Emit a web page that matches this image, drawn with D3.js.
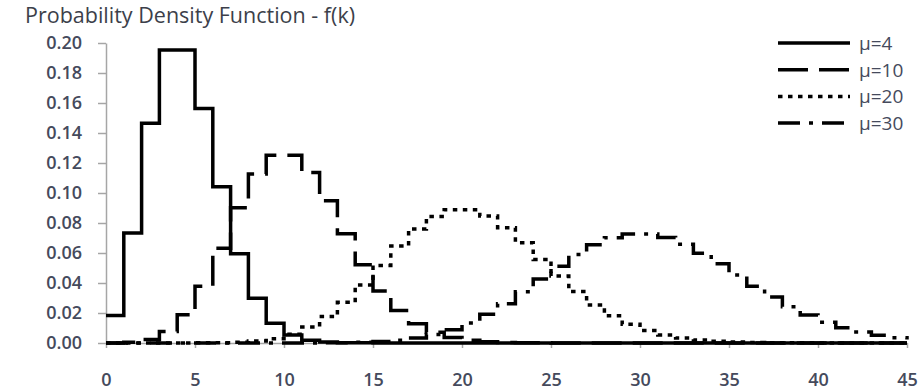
<!DOCTYPE html>
<html><head><meta charset="utf-8">
<script src="https://cdn.jsdelivr.net/npm/d3@7"></script>
<style>
html,body{margin:0;padding:0;background:#fff;}
svg text{font-family:"Open Sans","Liberation Sans",sans-serif;}
</style></head>
<body><svg id="c" width="924" height="391"></svg>
<script>
const title = "Probability Density Function - f(k)";
const seriesNames = ["μ=4","μ=10","μ=20","μ=30"];
const kValues = d3.range(0, 46);
const mu4 = [0.0183,0.0733,0.1465,0.1954,0.1954,0.1563,0.1042,0.0595,0.0298,0.0132,0.0053,0.0019,0.0006,0.0002,0.0001,0,0,0,0,0,0,0,0,0,0,0,0,0,0,0,0,0,0,0,0,0,0,0,0,0,0,0,0,0,0,0];
const mu10 = [0.0000,0.0005,0.0023,0.0076,0.0189,0.0378,0.0631,0.0901,0.1126,0.1251,0.1251,0.1137,0.0948,0.0729,0.0521,0.0347,0.0217,0.0128,0.0071,0.0037,0.0019,0.0009,0.0004,0.0002,0.0001,0,0,0,0,0,0,0,0,0,0,0,0,0,0,0,0,0,0,0,0,0];
const mu20 = [0,0,0,0,0,0.0001,0.0002,0.0005,0.0013,0.0029,0.0058,0.0106,0.0176,0.0271,0.0387,0.0517,0.0646,0.0760,0.0844,0.0888,0.0888,0.0846,0.0769,0.0669,0.0557,0.0446,0.0343,0.0254,0.0181,0.0125,0.0083,0.0054,0.0034,0.0020,0.0012,0.0007,0.0004,0.0002,0.0001,0.0001,0,0,0,0,0,0];
const mu30 = [0,0,0,0,0,0,0,0,0,0,0,0,0.0001,0.0002,0.0005,0.0010,0.0019,0.0034,0.0057,0.0089,0.0134,0.0192,0.0261,0.0341,0.0426,0.0511,0.0590,0.0655,0.0702,0.0726,0.0726,0.0703,0.0659,0.0599,0.0529,0.0453,0.0378,0.0306,0.0242,0.0186,0.0139,0.0102,0.0073,0.0051,0.0035,0.0023];
const yTicks = [0,0.02,0.04,0.06,0.08,0.10,0.12,0.14,0.16,0.18,0.20];
const xTicks = [0,5,10,15,20,25,30,35,40,45];

const dashes = [null, "30,11", "4.5,5.5", "22,9,4,9"];
const svg = d3.select("#c");
const x = d3.scaleLinear().domain([0,45]).range([106,907]);
const y = d3.scaleLinear().domain([0,0.20]).range([343,43]);
const axisCol = "#a6a6a6", textCol = "#454a5c";

svg.append("text").attr("x",25).attr("y",23).attr("font-size",21.5).attr("fill","#3c3f4a").text(title);

// y axis
const ya = svg.append("g").attr("transform","translate(106,0)")
  .call(d3.axisLeft(y).tickValues(yTicks).tickFormat(d3.format(".2f")).tickSize(8).tickSizeOuter(0));
ya.select(".domain").attr("stroke",axisCol).attr("stroke-width",1.5);
ya.selectAll(".tick line").attr("stroke",axisCol).attr("stroke-width",1.5);
ya.selectAll(".tick text").attr("x",-24).attr("font-size",18).attr("font-weight",600).attr("fill",textCol).attr("font-family","Open Sans");

// x axis
const xa = svg.append("g").attr("transform","translate(0,343)")
  .call(d3.axisBottom(x).tickValues(xTicks).tickSize(5).tickSizeOuter(0));
xa.select(".domain").attr("stroke",axisCol).attr("stroke-width",1.5);
xa.selectAll(".tick line").attr("stroke",axisCol).attr("stroke-width",1.5);
xa.selectAll(".tick text").attr("y",30).attr("font-size",18).attr("font-weight",600).attr("fill",textCol).attr("font-family","Open Sans");

const line = d3.line().x((d,i)=>x(kValues[i])).y(d=>y(d)).curve(d3.curveStepAfter);
const all = [mu4, mu10, mu20, mu30];
all.forEach((s,i)=>{
  svg.append("path").datum(s).attr("d",line).attr("fill","none")
    .attr("stroke","#000").attr("stroke-width",3.5)
    .attr("stroke-dasharray",dashes[i]);
});

// legend
const lg = svg.append("g");
seriesNames.forEach((n,i)=>{
  const yy = 43 + i*26.7;
  lg.append("line").attr("x1",778).attr("x2",850).attr("y1",yy).attr("y2",yy)
    .attr("stroke","#000").attr("stroke-width",3.5).attr("stroke-dasharray",dashes[i]);
  lg.append("text").attr("x",859).attr("y",yy+7).attr("font-size",19).attr("fill",textCol).text(n);
});
</script></body></html>
